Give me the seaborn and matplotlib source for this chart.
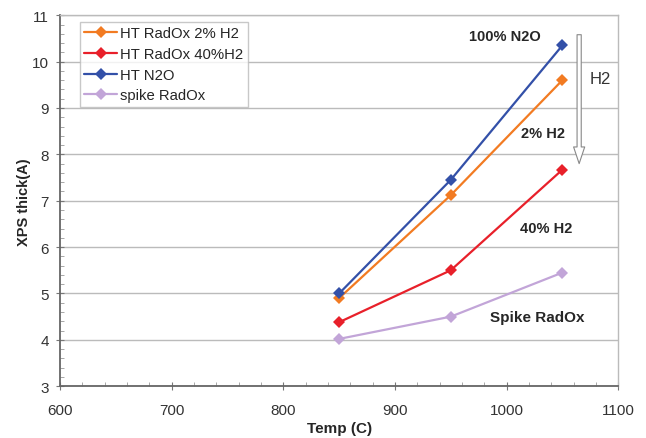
import pandas as pd
import matplotlib
matplotlib.use("Agg")
import matplotlib.pyplot as plt
import seaborn as sns
from matplotlib.ticker import MultipleLocator

temps = [850, 950, 1050]
ht_radox_2 = [4.90, 7.12, 9.60]
ht_radox_40 = [4.38, 5.50, 7.67]
ht_n2o = [5.00, 7.45, 10.35]
spike_radox = [4.02, 4.50, 5.45]

series_names = ["HT RadOx 2% H2", "HT RadOx 40%H2", "HT N2O", "spike RadOx"]
series_values = [ht_radox_2, ht_radox_40, ht_n2o, spike_radox]
palette = {
    "HT RadOx 2% H2": "#F27B22",
    "HT RadOx 40%H2": "#E8202A",
    "HT N2O": "#3350A8",
    "spike RadOx": "#C2A5D8",
}

df = pd.concat(
    [pd.DataFrame({"Temp": temps, "thick": v, "series": n}) for n, v in zip(series_names, series_values)]
)

sns.set_style("white")
plt.rcParams["font.family"] = ["Liberation Sans", "DejaVu Sans"]

fig, ax = plt.subplots(figsize=(6.46, 4.39), dpi=100)
fig.subplots_adjust(left=0.093, right=0.957, top=0.963, bottom=0.118)

sns.lineplot(
    df, x="Temp", y="thick", hue="series", hue_order=series_names, palette=palette,
    marker="D", markersize=6, markeredgewidth=0, linewidth=1.6, ax=ax,
)

ax.set_xlim(600, 1100)
ax.set_ylim(3, 11)
ax.xaxis.set_major_locator(MultipleLocator(100))
ax.xaxis.set_minor_locator(MultipleLocator(20))
ax.yaxis.set_major_locator(MultipleLocator(1))
ax.yaxis.set_minor_locator(MultipleLocator(0.2))
ax.tick_params(axis="both", which="major", direction="inout", length=6, color="#777777",
               labelsize=11, labelcolor="#333333")
ax.tick_params(axis="x", which="major", pad=9)
ax.tick_params(axis="y", which="major", pad=5)
ax.tick_params(axis="both", which="minor", direction="in", length=3, color="#999999")
ax.tick_params(bottom=True, left=True, which="both")
ax.grid(axis="y", color="#bbbbbb", linewidth=1)
ax.set_axisbelow(True)
for side in ["left", "bottom"]:
    ax.spines[side].set_color("#666666")
    ax.spines[side].set_linewidth(1.3)
for side in ["top", "right"]:
    ax.spines[side].set_color("#bbbbbb")
    ax.spines[side].set_linewidth(1)

ax.set_xlabel("Temp (C)", fontsize=11, fontweight="bold", labelpad=3)
ax.set_ylabel("XPS thick(A)", fontsize=10.5, fontweight="bold", labelpad=1)

leg = ax.legend(loc="upper left", bbox_to_anchor=(0.03, 0.99), fontsize=10.7, frameon=True,
                fancybox=False, edgecolor="#bbbbbb", handlelength=2.2, handletextpad=0.2,
                borderpad=0.3, labelspacing=0.45, borderaxespad=0.2)
leg.get_frame().set_linewidth(1)

ax.text(1031, 10.56, "100% N2O", fontsize=10.5, fontweight="bold", ha="right", va="center")
ax.text(1052, 8.45, "2% H2", fontsize=10.5, fontweight="bold", ha="right", va="center")
ax.text(1059, 6.42, "40% H2", fontsize=10.5, fontweight="bold", ha="right", va="center")
ax.text(1070, 4.5, "Spike RadOx", fontsize=11, fontweight="bold", ha="right", va="center")
ax.text(1074, 9.64, "H2", fontsize=12, ha="left", va="center", color="#333333")

ax.annotate("", xy=(1065, 7.8), xytext=(1065, 10.58),
            arrowprops=dict(facecolor="white", edgecolor="#888888", width=3, headwidth=8,
                            headlength=12, linewidth=0.8, shrink=0))

fig.savefig("out.png", dpi=100)
